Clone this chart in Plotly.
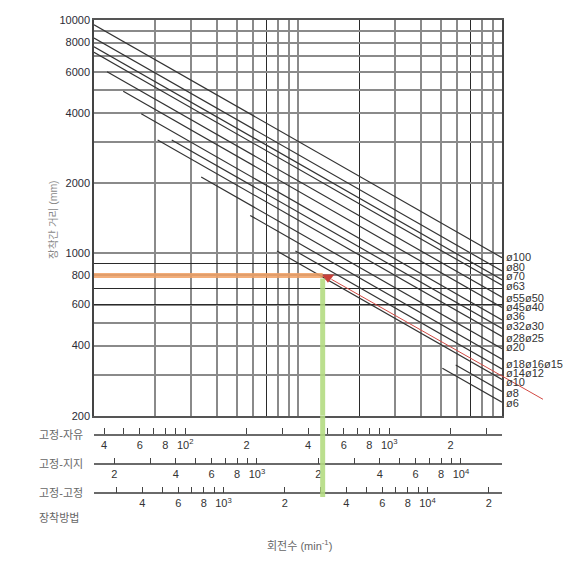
import math
import plotly.graph_objects as go

# ---------------- data ----------------
diam_labels = ["ø100", "ø80", "ø70", "ø63", "ø55ø50", "ø45ø40", "ø36", "ø32ø30",
               "ø28ø25", "ø20", "ø18ø16ø15", "ø14ø12", "ø10", "ø8", "ø6"]
# line start / end, x in rpm on the fixed-free scale, y = mounting distance (mm)
start_rpm = [35.73, 35.73, 35.73, 35.73, 41.4, 49.7, 60.9, 85.9,
             73.3, 119.8, 208.3, 347.0, 281.8, 2119, 1823]
start_len = [9546, 8369, 7680, 7266, 5998, 4947, 3954, 3055,
             3055, 2118, 1448, 1019, 1019, 330.1, 319.5]
end_rpm = [3573, 3573, 3573, 3573, 3573, 3573, 3573, 3573,
           3573, 3573, 3573, 3573, 3573, 3573, 3573]
end_len = [953.7, 836.0, 767.4, 726.0, 645.3, 582.8, 515.6, 473.6,
           437.6, 387.6, 349.3, 317.4, 286.0, 254.3, 228.3]

# worked example: mounting distance 800 mm
ex_len = 800
ex_rpm = 472
ex_mark = (501, 786)
red_rpm = [521, 5675]
red_len = [770.4, 235.2]

# scales
FF_BASE = 35.73        # fixed-free rpm at left edge of the chart
FS_FACTOR = 4.45       # fixed-supported / fixed-free
FX_FACTOR = 6.49       # fixed-fixed / fixed-free
len_range = [200, 10000]

y_tick_vals = [200, 400, 600, 800, 1000, 2000, 4000, 6000, 8000, 10000]
y_tick_text = ["200", "400", "600", "800", "1000", "2000", "4000", "6000", "8000", "10000"]
y_grid_gray_minor = [300, 500, 3000, 5000, 7000, 9000]
y_grid_black = [600, 700, 900]
x_grid_gray = [2, 3, 4, 5, 6, 8, 9, 10, 30, 40, 50, 60, 80, 90]
x_grid_black = [7, 20, 70]

ff_ticks = [40, 50, 60, 70, 80, 90, 100, 200, 300, 400, 500, 600, 700, 800, 900, 1000, 2000, 3000]
ff_text = ["4", "", "6", "", "8", "", "10<sup>2</sup>", "2", "", "4", "", "6", "", "8", "",
           "10<sup>3</sup>", "2", ""]
fs_ticks = [200, 300, 400, 500, 600, 700, 800, 900, 1000, 2000, 3000, 4000, 5000, 6000,
            7000, 8000, 9000, 10000]
fs_text = ["2", "", "4", "", "6", "", "8", "", "10<sup>3</sup>", "2", "", "4", "", "6", "",
           "8", "", "10<sup>4</sup>"]
fx_ticks = [300, 400, 500, 600, 700, 800, 900, 1000, 2000, 3000, 4000, 5000, 6000, 7000,
            8000, 9000, 10000, 20000]
fx_text = ["", "4", "", "6", "", "8", "", "10<sup>3</sup>", "2", "", "4", "", "6", "", "8", "",
           "10<sup>4</sup>", "2"]

# ---------------- layout geometry ----------------
W, H = 574, 561
ML, MR, MT, MB = 94, 25, 20, 20
PW = W - ML - MR            # paper width
PH = H - MT - MB            # paper height
PLOT_W = 408                # chart width in px
xdom = [0, PLOT_W / PW]
ydom = [0.2405, 1]
pos_ff, pos_fs, pos_fx = 0.2035, 0.1472, 0.0916
DECADES = 2.0
# vertical nudges (px, up positive) of the right-hand labels
label_shift = [1, 4.3, 3.5, -0.4, -0.5, 0.8, 3.9, 2.5, -1.2, 1.5, -4.7, -3.7, -2.8, -1.9, -1.0]

lf = math.log10(FF_BASE)
ff_range = [lf, lf + DECADES]
fs_range = [lf + math.log10(FS_FACTOR), lf + math.log10(FS_FACTOR) + DECADES]
fx_range = [lf + math.log10(FX_FACTOR), lf + math.log10(FX_FACTOR) + DECADES]
ext_range = [lf, lf + DECADES * PW / PLOT_W]
yr = [math.log10(len_range[0]), math.log10(len_range[1])]

NUM_FONT = "Liberation Sans, Arial, sans-serif"
KR_FONT = "Liberation Sans, Noto Sans CJK KR, sans-serif"
GRAY = "#8a8a8a"
BLACK = "#2a2a2a"

fig = go.Figure()

# dummy traces to register axes
for xa, ya in [("x", "y"), ("x", "y2"), ("x3", "y"), ("x4", "y")]:
    fig.add_trace(go.Scatter(x=[None], y=[None], xaxis=xa, yaxis=ya,
                             showlegend=False, hoverinfo="skip"))

# diameter lines
for i in range(len(diam_labels)):
    fig.add_trace(go.Scatter(
        x=[start_rpm[i], end_rpm[i]], y=[start_len[i], end_len[i]],
        mode="lines", line=dict(color="#333333", width=1.2),
        xaxis="x2", yaxis="y", showlegend=False, hoverinfo="skip"))
    fig.add_annotation(
        x=math.log10(end_rpm[i]), y=math.log10(end_len[i]), xref="x5", yref="y3",
        text=diam_labels[i], showarrow=False, xanchor="left", yanchor="middle",
        xshift=2, yshift=label_shift[i], font=dict(family=NUM_FONT, size=11, color="#333"))

# example red line (runs past the right edge) and marker
fig.add_trace(go.Scatter(
    x=red_rpm, y=red_len, mode="lines", line=dict(color="#d24a44", width=1),
    xaxis="x5", yaxis="y3", showlegend=False, hoverinfo="skip"))

# orange (distance) and green (speed) guides
fig.add_shape(type="line", xref="x2", yref="y", x0=FF_BASE, x1=ex_rpm, y0=ex_len, y1=ex_len,
              line=dict(color="rgba(240,160,100,0.85)", width=5))
fig.add_shape(type="line", xref="x2", yref="y", x0=ex_rpm, x1=ex_rpm, y0=len_range[0], y1=ex_len * 0.97,
              line=dict(color="rgba(180,220,130,0.9)", width=5))
fig.add_shape(type="line", xref="x2", yref="paper", x0=ex_rpm, x1=ex_rpm, y0=0.0845, y1=ydom[0],
              line=dict(color="rgba(180,220,130,0.9)", width=5))

fig.add_trace(go.Scatter(
    x=[ex_mark[0]], y=[ex_mark[1]], mode="markers",
    marker=dict(symbol="triangle-down", size=11, color="#c8403a"),
    xaxis="x2", yaxis="y", showlegend=False, hoverinfo="skip"))

bottom_axis = dict(type="log", overlaying="x", anchor="free", domain=xdom, side="bottom",
                   showgrid=False, zeroline=False, showline=True, linecolor="#6a6a6a", linewidth=1.5,
                   ticks="inside", ticklen=6, tickwidth=1, tickcolor="#444", tickmode="array",
                   tickfont=dict(family=NUM_FONT, size=11, color="#333"))

fig.update_layout(
    width=W, height=H, margin=dict(l=ML, r=MR, t=MT, b=MB),
    paper_bgcolor="white", plot_bgcolor="rgba(0,0,0,0)", showlegend=False,
    xaxis=dict(type="log", range=[0, DECADES], domain=xdom, anchor="y",
               tickmode="array", tickvals=x_grid_gray, showticklabels=False, ticks="",
               showgrid=True, gridcolor=GRAY, gridwidth=2,
               minor=dict(tickmode="array", tickvals=x_grid_black, showgrid=True,
                          gridcolor=BLACK, gridwidth=1.2, ticks=""),
               showline=True, mirror=True, linecolor="#555", linewidth=1.5, zeroline=False),
    xaxis2=dict(bottom_axis, range=ff_range, position=pos_ff, tickvals=ff_ticks, ticktext=ff_text),
    xaxis3=dict(bottom_axis, range=fs_range, position=pos_fs, tickvals=fs_ticks, ticktext=fs_text),
    xaxis4=dict(bottom_axis, range=fx_range, position=pos_fx, tickvals=fx_ticks, ticktext=fx_text),
    xaxis5=dict(type="log", range=ext_range, domain=[0, 1], anchor="y3", visible=False,
                showgrid=False, zeroline=False),
    yaxis=dict(type="log", range=yr, domain=ydom, anchor="x",
               tickmode="array", tickvals=y_tick_vals, ticktext=y_tick_text, ticks="",
               tickfont=dict(family=NUM_FONT, size=11, color="#2b2b35"),
               showgrid=True, gridcolor=GRAY, gridwidth=2,
               minor=dict(tickmode="array", tickvals=y_grid_gray_minor, showgrid=True,
                          gridcolor=GRAY, gridwidth=2, ticks=""),
               showline=True, mirror=True, linecolor="#444", linewidth=1.5, zeroline=False),
    yaxis2=dict(type="log", range=yr, domain=ydom, anchor="x", overlaying="y",
                tickmode="array", tickvals=y_grid_black, showticklabels=False, ticks="",
                showgrid=True, gridcolor=BLACK, gridwidth=1.2, showline=False, zeroline=False),
    yaxis3=dict(type="log", range=yr, domain=ydom, anchor="x5", visible=False,
                showgrid=False, zeroline=False),
)

# texts
lab_x = (37 - ML) / PW
txt_font = dict(family=KR_FONT, size=11, color="#666")
fig.add_annotation(x=(45 - ML) / PW, y=(H - MB - 220) / PH, xref="paper", yref="paper",
                   text="장착간 거리 (mm)", textangle=-90, showarrow=False,
                   font=dict(family=KR_FONT, size=10.5, color="#888"))
for txt, pos in [("고정-자유", pos_ff), ("고정-지지", pos_fs), ("고정-고정", pos_fx),
                 ("장착방법", (H - MB - 518) / PH)]:
    fig.add_annotation(x=lab_x, y=pos, xref="paper", yref="paper", text=txt, showarrow=False,
                       xanchor="left", yanchor="middle", font=txt_font)
fig.add_annotation(x=(299 - ML) / PW, y=(H - MB - 545) / PH, xref="paper", yref="paper",
                   text="회전수 (min<sup>-1</sup>)", showarrow=False, xanchor="center",
                   yanchor="middle", font=txt_font)

fig.write_html("out.html")
